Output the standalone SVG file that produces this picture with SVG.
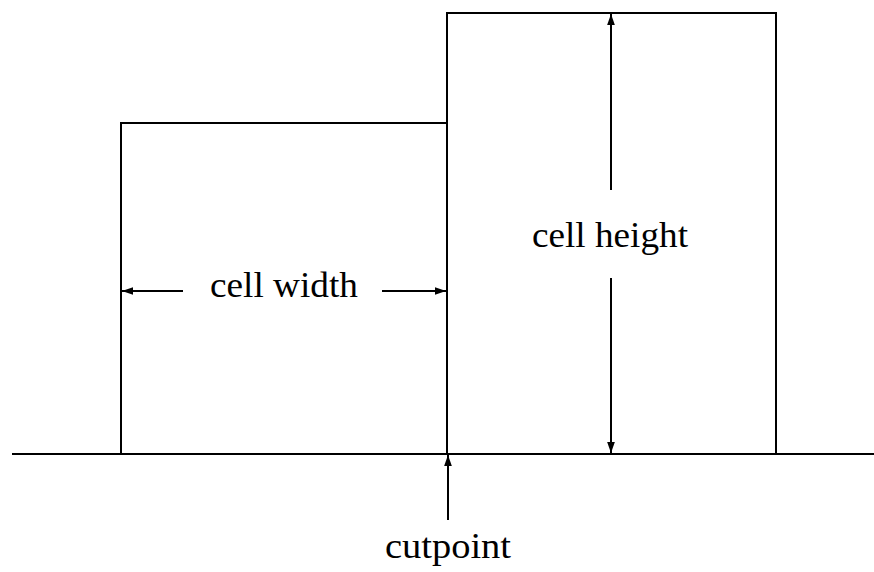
<svg xmlns="http://www.w3.org/2000/svg" width="874" height="572" viewBox="0 0 874 572">
<style>
.ln{stroke:#000;stroke-width:2;fill:none}
.t{font-family:"Liberation Serif","DejaVu Serif",serif;font-size:36px;fill:#000;text-anchor:middle}
</style>
<defs>
<marker id="ah" viewBox="0 0 10 10" refX="10" refY="5" markerWidth="11" markerHeight="11" markerUnits="userSpaceOnUse" orient="auto">
<path d="M0,1.5 L10,5 L0,8.5 Z" fill="#000"/>
</marker>
</defs>
<rect width="874" height="572" fill="#fff"/>
<g id="cell-left">
<path class="ln" d="M121,454 V123 H447"/>
</g>
<g id="cell-right">
<path class="ln" d="M447,454 V13 H776 V454"/>
</g>
<g id="baseline">
<line class="ln" x1="12" y1="454" x2="874" y2="454"/>
</g>
<g id="connectors">
<line class="ln" x1="183" y1="291" x2="122" y2="291" marker-end="url(#ah)"/>
<line class="ln" x1="382" y1="291" x2="446" y2="291" marker-end="url(#ah)"/>
<line class="ln" x1="611" y1="190" x2="611" y2="14" marker-end="url(#ah)"/>
<line class="ln" x1="611" y1="278" x2="611" y2="453" marker-end="url(#ah)"/>
<line class="ln" x1="448" y1="520" x2="448" y2="455" marker-end="url(#ah)"/>
</g>
<g id="labels">
<text class="t" x="284" y="297" textLength="148" lengthAdjust="spacingAndGlyphs">cell width</text>
<text class="t" x="610" y="247" textLength="156" lengthAdjust="spacingAndGlyphs">cell height</text>
<text class="t" x="448" y="558" textLength="126" lengthAdjust="spacingAndGlyphs">cutpoint</text>
</g>
</svg>
